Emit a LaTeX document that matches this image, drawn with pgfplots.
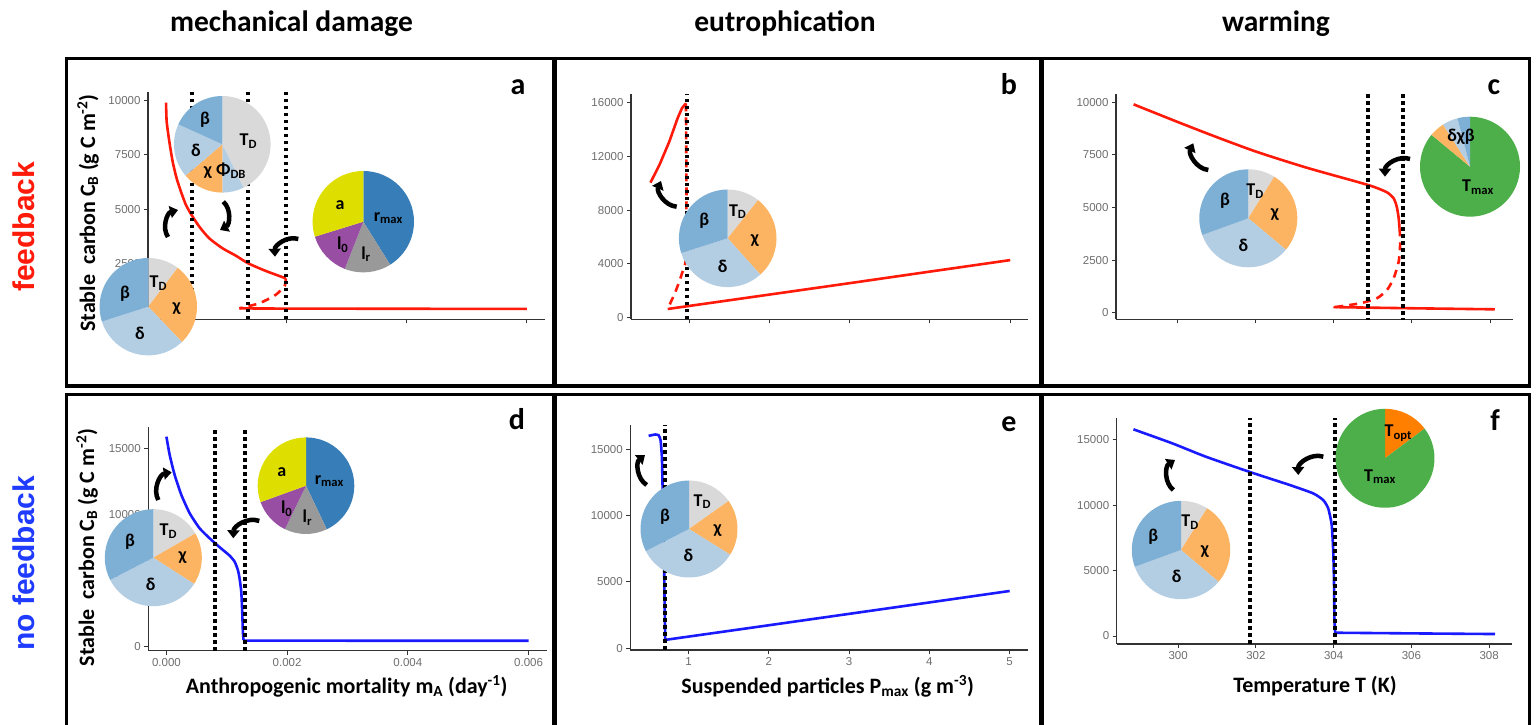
\documentclass[border=0pt]{standalone}
\usepackage{pgfplots}
\pgfplotsset{compat=1.18}
\usepackage{fontspec}
\setmainfont{Carlito}
\newfontfamily\arialfont{Liberation Sans}
\usetikzlibrary{arrows.meta}

% slice colours
\definecolor{cbeta}{HTML}{7EB0D5}
\definecolor{cdelta}{HTML}{B3CDE3}
\definecolor{cchi}{HTML}{FDB462}
\definecolor{ctd}{HTML}{D9D9D9}
\definecolor{crmax}{HTML}{377EB8}
\definecolor{clr}{HTML}{999999}
\definecolor{clzero}{HTML}{984EA3}
\definecolor{ca}{HTML}{DEDE00}
\definecolor{ctmax}{HTML}{4DAF4A}
\definecolor{ctopt}{HTML}{FF7F00}
% series colours
\definecolor{fbred}{HTML}{FF1A0A}
\definecolor{nfblue}{HTML}{1A1AFF}
\definecolor{rowblue}{HTML}{1F3BFF}
\definecolor{tickgray}{HTML}{6E6E6E}

% pie slice: cx, cy, r, start angle, end angle, colour
\newcommand\slice[6]{\fill[#6] (#1,#2) -- ++(#4:#3) arc[start angle=#4, end angle=#5, radius=#3] -- cycle;}
% pie label
\newcommand\plab[3]{\node[font=\bfseries\fontsize{18}{18}\selectfont, inner sep=0pt] at (#1,#2) {#3};}
\newcommand\sub[1]{\textsubscript{#1}}
\newcommand\sensarrow[3]{\draw[line width=4.5pt, -{Triangle[length=8pt,width=12pt]}] #1 to[#3] #2;}

\pgfplotsset{
  panel/.style={
    scale only axis, anchor=south west,
    axis x line*=bottom, axis y line*=left,
    axis line style={line width=1.2pt, black!80},
    every tick/.style={line width=1pt, black!80},
    tick align=outside, major tick length=4pt,
    tick label style={font=\arialfont\fontsize{11.5}{11.5}\selectfont, text=tickgray},
    /pgf/number format/assume math mode=true,
    /pgf/number format/set thousands separator={},
    scaled ticks=false,
  },
  mortx/.style={xmin=-0.0003, xmax=0.0063, xtick={0,0.002,0.004,0.006},
    xticklabel style={/pgf/number format/.cd, fixed, fixed zerofill, precision=3}},
  partx/.style={xmin=0.275, xmax=5.225, xtick={1,2,3,4,5}},
  tempx/.style={xmin=298.42, xmax=308.58, xtick={300,302,304,306,308}},
  fb/.style={fbred, line width=2.6pt},
  fbdash/.style={fbred, line width=2.6pt, dash pattern=on 8pt off 6pt},
  nf/.style={nfblue, line width=2.6pt},
  vdot/.style={black, line width=4pt, dash pattern=on 3.5pt off 3.5pt},
}

\begin{document}
\begin{tikzpicture}[x=1pt,y=1pt]
\path[use as bounding box] (0,0) rectangle (1536,725);

% ---------- panel frames ----------
\draw[line width=3.5pt] (66.5,666.5) rectangle (1529.5,339);
\draw[line width=5pt] (554.5,666.5) -- (554.5,339);
\draw[line width=5pt] (1041.5,666.5) -- (1041.5,339);
\draw[line width=3.5pt] (66.5,-5) -- (66.5,330.5) -- (1529.5,330.5) -- (1529.5,-5);
\draw[line width=5pt] (554.5,330.5) -- (554.5,-5);
\draw[line width=5pt] (1041.5,330.5) -- (1041.5,-5);

% ---------- column and row headings ----------
\begin{scope}[every node/.style={font=\bfseries\fontsize{29.5}{30}\selectfont, anchor=base}]
\node at (291.5,693) {mechanical damage};
\node at (785,693) {eutrophication};
\node at (1276,693) {warming};
\end{scope}
\node[rotate=90, anchor=base, font=\arialfont\bfseries\fontsize{30}{30}\selectfont, text=fbred] at (35,498.3) {feedback};
\node[rotate=90, anchor=base, font=\arialfont\bfseries\fontsize{30}{30}\selectfont, text=rowblue] at (35,161.7) {no feedback};

% ---------- (a) mechanical damage, feedback ----------
\begin{axis}[panel, mortx, at={(148pt,405.7pt)}, width=397pt, height=227.6pt,
  ymin=-83, ymax=10415, ytick={0,2500,5000,7500,10000}, xticklabels={}]
\addplot[fb, smooth, tension=0.4] coordinates {(0.0000,9909) (0.0000105,9033) (0.000055,8110) (0.00011,7188) (0.000176,6419) (0.000248,5804) (0.000331,5189) (0.000425,4728) (0.000553,4190) (0.000718,3652) (0.00094,3190) (0.00116,2852) (0.001366,2498) (0.00166,2145) (0.00199,1807)};
\addplot[fbdash, smooth, tension=0.4] coordinates {(0.00199,1807) (0.00197,1450) (0.00182,1040) (0.00155,655) (0.00122,424)};
\addplot[fb] coordinates {(0.00122,420) (0.002,410) (0.006,395)};
\addplot[vdot] coordinates {(0.000425,-83) (0.000425,10415)};
\addplot[vdot] coordinates {(0.001366,-83) (0.001366,10415)};
\addplot[vdot] coordinates {(0.00199,-83) (0.00199,10415)};
\end{axis}

% ---------- (b) eutrophication, feedback ----------
\begin{axis}[panel, partx, at={(631pt,405.7pt)}, width=397.3pt, height=225pt,
  ymin=-119, ymax=16622, ytick={0,4000,8000,12000,16000}, xticklabels={}]
\addplot[fb] coordinates {(0.517,10045) (0.629,11362) (0.752,13098) (0.855,14834) (0.909,15578) (0.959,15950)};
\addplot[fbdash, smooth, tension=0.4] coordinates {(0.959,15950) (0.966,9000) (0.955,4300) (0.91,3300) (0.876,2680) (0.82,1800) (0.773,1190) (0.732,647)};
\addplot[fb] coordinates {(0.732,647) (2,1720) (3,2570) (4,3430) (5.0,4286)};
\addplot[vdot] coordinates {(0.968,-119) (0.968,16622)};
\end{axis}

% ---------- (c) warming, feedback ----------
\begin{axis}[panel, tempx, at={(1116pt,405.7pt)}, width=396.7pt, height=225pt,
  ymin=-314, ymax=10380, ytick={0,2500,5000,7500,10000}, xticklabels={}]
\addplot[fb, smooth, tension=0.4] coordinates {(298.87,9903) (299.87,9159) (300.90,8414) (302.01,7653) (303.30,6893) (304.58,6228) (305.01,5990) (305.36,5721) (305.53,5436) (305.61,5040) (305.66,4485) (305.68,4010)};
\addplot[fbdash, smooth, tension=0.4] coordinates {(305.68,4010) (305.70,3376) (305.66,2426) (305.53,1634) (305.36,1079) (305.10,683) (304.67,445) (303.99,255)};
\addplot[fb] coordinates {(303.99,265) (306,210) (308.12,160)};
\addplot[vdot] coordinates {(304.87,-420) (304.87,10380)};
\addplot[vdot] coordinates {(305.77,-420) (305.77,10380)};
\end{axis}

% ---------- (d) mechanical damage, no feedback ----------
\begin{axis}[panel, mortx, at={(148.3pt,74.3pt)}, width=398.4pt, height=224pt,
  ymin=-333, ymax=16636, ytick={0,5000,10000,15000}]
\addplot[nf, smooth, tension=0.35] coordinates {(0,15881) (0.0000545,14492) (0.000137,12977) (0.000248,11462) (0.000386,10076) (0.00055,8939) (0.000716,8182) (0.000826,7727) (0.000936,7298) (0.001047,6869) (0.00113,6414) (0.001184,5780) (0.001212,5149) (0.00124,4139) (0.001256,2624) (0.001267,1109) (0.001278,477)};
\addplot[nf] coordinates {(0.001278,477) (0.0013,427) (0.006,420)};
\addplot[vdot] coordinates {(0.000804,-333) (0.000804,16636)};
\addplot[vdot] coordinates {(0.001295,-333) (0.001295,16636)};
\end{axis}

% ---------- (e) eutrophication, no feedback ----------
\begin{axis}[panel, partx, at={(630.3pt,75pt)}, width=397.4pt, height=225pt,
  ymin=-135, ymax=16830, ytick={0,5000,10000,15000}]
\addplot[nf, smooth, tension=0.3] coordinates {(0.503,16012) (0.586,16112) (0.627,16062) (0.652,15685) (0.669,14305) (0.681,11041) (0.694,7277) (0.702,3513) (0.710,627)};
\addplot[nf] coordinates {(0.710,627) (2,1730) (3,2590) (4,3450) (5.0,4315)};
\addplot[vdot] coordinates {(0.71,-135) (0.71,16830)};
\end{axis}

% ---------- (f) warming, no feedback ----------
\begin{axis}[panel, tempx, at={(1116.7pt,81pt)}, width=395pt, height=225.7pt,
  ymin=-612, ymax=16657, ytick={0,5000,10000,15000}]
\addplot[nf, smooth, tension=0.35] coordinates {(298.85,15813) (299.85,14741) (300.71,13721) (301.87,12523) (302.87,11553) (303.47,10916) (303.73,10405) (303.86,9768) (303.95,8493) (303.99,6452) (304.01,3902) (304.02,1352) (304.04,250)};
\addplot[nf] coordinates {(304.04,250) (306,200) (308.15,150)};
\addplot[vdot] coordinates {(301.86,-612) (301.86,16657)};
\addplot[vdot] coordinates {(304.03,-612) (304.03,16657)};
\end{axis}

% ---------- axis titles and panel letters ----------
\begin{scope}[every node/.style={font=\bfseries\fontsize{22}{22}\selectfont}]
\node[rotate=90, anchor=base] at (95,512) {Stable\ \ carbon C\sub{B} (g C m\textsuperscript{-2})};
\node[rotate=90, anchor=base] at (94,177.5) {Stable\ \ carbon C\sub{B} (g C m\textsuperscript{-2})};
\node[anchor=base] at (346.7,31.7) {Anthropogenic mortality m\sub{A} (day\textsuperscript{-1})};
\node[anchor=base] at (827.7,31.7) {Suspended particles P\sub{max} (g m\textsuperscript{-3})};
\node[anchor=base] at (1315,32.7) {Temperature T (K)};
\end{scope}
\begin{scope}[every node/.style={font=\bfseries\fontsize{30}{30}\selectfont, anchor=base}]
\node at (518,630.7) {a};
\node at (1009,630.7) {b};
\node at (1494,630) {c};
\node at (517,295) {d};
\node at (1009,293.3) {e};
\node at (1495,294) {f};
\end{scope}

% ---------- sensitivity pies ----------
% (a) upper pie
\slice{222.3}{580.7}{48.3}{90}{-64}{ctd}
\slice{222.3}{580.7}{48.3}{-64}{-90}{cdelta}
\slice{222.3}{580.7}{48.3}{-90}{-139.5}{cchi}
\slice{222.3}{580.7}{48.3}{-139.5}{-204.4}{cdelta}
\slice{222.3}{580.7}{48.3}{-204.4}{-270}{cbeta}
\plab{205}{605}{β}
\plab{248.3}{584}{T\sub{D}}
\plab{196}{575}{δ}
\plab{225}{554}{χ Φ\sub{DB}}
% (a) lower pie
\slice{148.3}{418.3}{48.7}{90}{52.9}{ctd}
\slice{148.3}{418.3}{48.7}{52.9}{-46.4}{cchi}
\slice{148.3}{418.3}{48.7}{-46.4}{-162.2}{cdelta}
\slice{148.3}{418.3}{48.7}{-162.2}{-270}{cbeta}
\plab{158.3}{441.7}{T\sub{D}}
\plab{125}{431.7}{β}
\plab{176.7}{416.7}{χ}
\plab{140}{391.7}{δ}
% (a) right pie
\slice{363.3}{503.3}{50.7}{90}{-58}{crmax}
\slice{363.3}{503.3}{50.7}{-58}{-111.4}{clr}
\slice{363.3}{503.3}{50.7}{-111.4}{-162.8}{clzero}
\slice{363.3}{503.3}{50.7}{-162.8}{-270}{ca}
\plab{340}{520}{a}
\plab{388.3}{506.7}{r\sub{max}}
\plab{342.7}{480}{l\sub{0}}
\plab{366}{470.7}{l\sub{r}}
% (b) pie
\slice{727.7}{486.7}{48.8}{90}{51.5}{ctd}
\slice{727.7}{486.7}{48.8}{51.5}{-48.1}{cchi}
\slice{727.7}{486.7}{48.8}{-48.1}{-162.3}{cdelta}
\slice{727.7}{486.7}{48.8}{-162.3}{-270}{cbeta}
\plab{737.7}{513.3}{T\sub{D}}
\plab{704.3}{504.3}{β}
\plab{755}{484.3}{χ}
\plab{722.7}{458.3}{δ}
% (c) left pie
\slice{1248.3}{506.7}{49}{90}{58}{ctd}
\slice{1248.3}{506.7}{49}{58}{-39.9}{cchi}
\slice{1248.3}{506.7}{49}{-39.9}{-160}{cdelta}
\slice{1248.3}{506.7}{49}{-160}{-270}{cbeta}
\plab{1255}{534}{T\sub{D}}
\plab{1225}{524}{β}
\plab{1275}{510}{χ}
\plab{1243.3}{479.3}{δ}
% (c) right pie
\slice{1470}{558.3}{50}{90}{-219.6}{ctmax}
\slice{1470}{558.3}{50}{-219.6}{-237.4}{cchi}
\slice{1470}{558.3}{50}{-237.4}{-255.5}{cdelta}
\slice{1470}{558.3}{50}{-255.5}{-270}{cbeta}
\plab{1461}{588}{δχβ}
\plab{1478}{538}{T\sub{max}}
% (d) left pie
\slice{153.3}{167.3}{48.5}{90}{30}{ctd}
\slice{153.3}{167.3}{48.5}{30}{-32.7}{cchi}
\slice{153.3}{167.3}{48.5}{-32.7}{-152.7}{cdelta}
\slice{153.3}{167.3}{48.5}{-152.7}{-270}{cbeta}
\plab{168.3}{194}{T\sub{D}}
\plab{130}{183.3}{β}
\plab{182.7}{167.3}{χ}
\plab{150.7}{140.7}{δ}
% (d) right pie
\slice{306}{239.3}{48.3}{90}{-64.5}{crmax}
\slice{306}{239.3}{48.3}{-64.5}{-115.9}{clr}
\slice{306}{239.3}{48.3}{-115.9}{-160.1}{clzero}
\slice{306}{239.3}{48.3}{-160.1}{-270}{ca}
\plab{281.7}{252.7}{a}
\plab{329.3}{244}{r\sub{max}}
\plab{286.7}{216}{l\sub{0}}
\plab{307.3}{207.3}{l\sub{r}}
% (e) pie
\slice{689}{196}{48.5}{90}{35.3}{ctd}
\slice{689}{196}{48.5}{35.3}{-32}{cchi}
\slice{689}{196}{48.5}{-32}{-152.9}{cdelta}
\slice{689}{196}{48.5}{-152.9}{-270}{cbeta}
\plab{702.3}{223.3}{T\sub{D}}
\plab{665}{208.3}{β}
\plab{717.7}{194.3}{χ}
\plab{688.3}{169.3}{δ}
% (f) left pie
\slice{1181}{175}{49.2}{90}{58}{ctd}
\slice{1181}{175}{49.2}{58}{-40.3}{cchi}
\slice{1181}{175}{49.2}{-40.3}{-160}{cdelta}
\slice{1181}{175}{49.2}{-160}{-270}{cbeta}
\plab{1190}{202.7}{T\sub{D}}
\plab{1153.3}{188.3}{β}
\plab{1205}{173.3}{χ}
\plab{1176.7}{148.3}{δ}
% (f) right pie
\slice{1385}{266.7}{49.5}{90}{36.9}{ctopt}
\slice{1385}{266.7}{49.5}{36.9}{-270}{ctmax}
\plab{1398.3}{291.7}{T\sub{opt}}
\plab{1380}{248.3}{T\sub{max}}

% ---------- arrows from pies to branches ----------
\sensarrow{(168,488)}{(178,515)}{bend left=55}
\sensarrow{(223.3,523.3)}{(220,495)}{bend left=55}
\sensarrow{(298.3,486)}{(275,468.3)}{bend right=55}
\sensarrow{(676.7,518.3)}{(661,544)}{bend left=55}
\sensarrow{(1208.3,555)}{(1193.3,581.7)}{bend left=55}
\sensarrow{(1410,566)}{(1385,548.3)}{bend right=55}
\sensarrow{(158.3,225)}{(171.7,252.7)}{bend left=55}
\sensarrow{(259.3,204)}{(233.3,186.7)}{bend right=55}
\sensarrow{(646.7,240)}{(645,270)}{bend left=55}
\sensarrow{(1173.3,235)}{(1175,265)}{bend left=55}
\sensarrow{(1323.3,268.3)}{(1298.3,250)}{bend right=55}
\end{tikzpicture}
\end{document}
